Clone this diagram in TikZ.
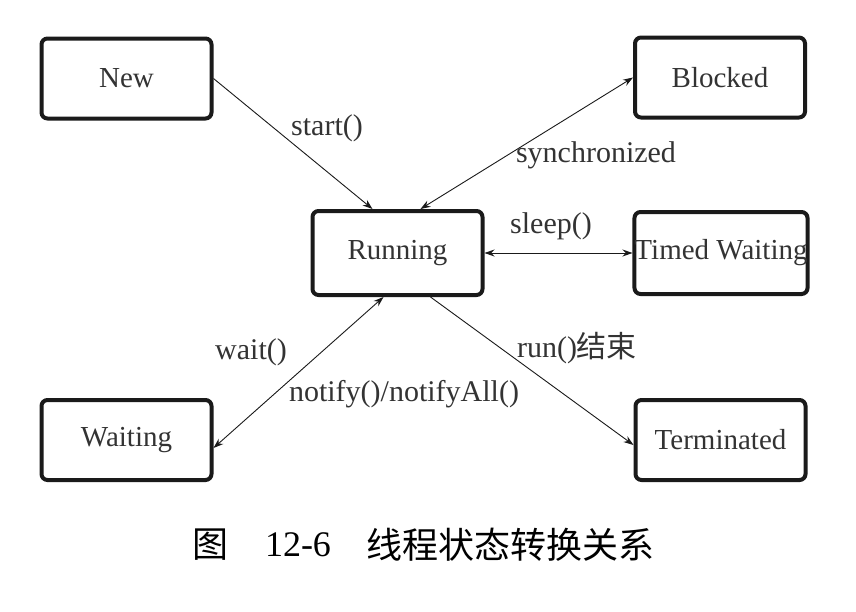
\documentclass[tikz,border=0pt]{standalone}
\usepackage{fontspec}
\setmainfont{Liberation Serif}
\newfontfamily\cjk{Noto Sans CJK SC}
\usetikzlibrary{arrows.meta,calc}
\definecolor{txt}{HTML}{333333}
\definecolor{edge}{HTML}{1A1A1A}
\begin{document}
\begin{tikzpicture}[x=1pt,y=-1pt,
  state/.style={draw=edge,line width=4pt,rounded corners=6pt,minimum width=170pt,minimum height=80pt,inner sep=0pt,text=txt,font=\fontsize{29}{32}\selectfont},
  conn/.style={draw=edge,line width=0.9pt,-{Stealth[length=10pt,width=7pt]}},
  both/.style={conn,{Stealth[length=10pt,width=7pt]}-{Stealth[length=10pt,width=7pt]}},
  lbl/.style={text=txt,font=\fontsize{30}{32}\selectfont,inner sep=0pt}]
\useasboundingbox[fill=white] (0,0) rectangle (856,611);
\node[state] (new) at (126.5,78.5) {New};
\node[state] (blk) at (720,77.5) {Blocked};
\node[state,minimum height=84pt] (run) at (397.5,253) {Running};
\node[state,minimum height=82pt] (tw) at (721,253) {Timed Waiting};
\node[state,minimum height=80pt] (wt) at (126.5,440) {Waiting};
\node[state,minimum height=80pt] (ter) at (720.5,440) {Terminated};
\draw[conn] (new.east) -- ($(run.north)+(-25,0)$);
\draw[both] (blk.west) -- ($(run.north)+(23,0)$);
\draw[both] (run.east) -- (tw.west);
\draw[both] ($(run.south)+(-14,0)$) -- ($(wt.east)+(0,8)$);
\draw[conn] ($(run.south)+(33,0)$) -- ($(ter.west)+(0,5)$);
\node[lbl] (l1) at (327,128) {start()};
\node[lbl] (l2) at (596,155) {synchronized};
\node[lbl] (l3) at (551,226) {sleep()};
\node[lbl] (l4) at (251,352) {wait()};
\node[lbl] (l5) at (404,394) {notify()/notifyAll()};
\node[lbl] (l6) at (577,348) {run()\cjk 结束};
\node[inner sep=0pt,font=\fontsize{36}{38}\selectfont] (c1) at (210,545) {\cjk 图};
\node[inner sep=0pt,font=\fontsize{36}{38}\selectfont] (c2) at (298,545) {12-6};
\node[inner sep=0pt,font=\fontsize{36}{38}\selectfont] (c3) at (510,545) {\cjk 线程状态转换关系};
\end{tikzpicture}
\end{document}
